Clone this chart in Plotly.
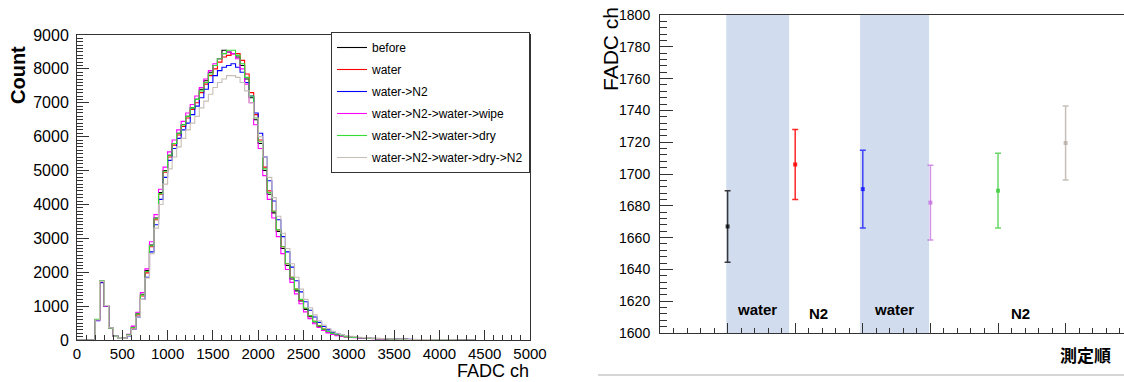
import numpy as np
import plotly.graph_objects as go

# ---------------- data: left histogram (bin width 50 FADC ch, lower edges from 0) ----------------
BIN_WIDTH = 50
hist_names = ["before", "water", "water->N2", "water->N2->water->wipe",
              "water->N2->water->dry", "water->N2->water->dry->N2"]
hist_colors = ["#000000", "#ff0000", "#0000ff", "#ff00ff", "#33dd33", "#c8bfb6"]

before = [0, 0, 0, 0, 600, 1720, 1000, 350, 120, 50, 60, 150, 380, 780, 1350, 2050, 2800, 3600, 4350, 5000,
          5450, 5800, 6100, 6350, 6600, 6850, 7100, 7400, 7650, 7900, 8100, 8300, 8550, 8500, 8450, 8350,
          8100, 7700, 7150, 6500, 5800, 5000, 4300, 3750, 3200, 2700, 2200, 1800, 1450, 1150, 900, 690,
          530, 410, 310, 240, 190, 150, 120, 100, 85, 75, 65, 58, 50, 45, 40, 35, 30, 27, 24, 21, 18, 16,
          14, 12, 10, 8, 7, 6, 5, 4, 3, 2, 2, 1, 1, 0]
water = [0, 0, 0, 0, 580, 1700, 1010, 340, 110, 45, 55, 140, 350, 740, 1300, 1980, 2750, 3550, 4300, 4950,
         5400, 5750, 6050, 6300, 6550, 6800, 7000, 7300, 7550, 7800, 8000, 8200, 8350, 8400, 8450, 8450,
         8250, 7850, 7300, 6650, 5900, 5100, 4400, 3800, 3250, 2750, 2250, 1850, 1500, 1180, 930, 710,
         550, 420, 320, 250, 195, 155, 125, 100, 88, 76, 66, 58, 52, 46, 40, 36, 31, 27, 24, 21, 19, 16,
         14, 12, 10, 9, 7, 6, 5, 4, 3, 3, 2, 1, 1, 0]
water_n2 = [0, 0, 0, 0, 570, 1690, 990, 345, 115, 45, 50, 120, 310, 680, 1200, 1850, 2600, 3400, 4150, 4800,
            5300, 5650, 5950, 6200, 6400, 6650, 6900, 7150, 7400, 7600, 7800, 7950, 8050, 8100, 8150, 8050,
            7900, 7600, 7200, 6700, 6100, 5400, 4700, 4100, 3550, 3050, 2600, 2150, 1750, 1420, 1130, 880,
            680, 520, 400, 300, 230, 180, 145, 115, 95, 82, 70, 62, 55, 48, 42, 37, 33, 29, 25, 22, 19, 17,
            15, 13, 11, 9, 8, 6, 5, 4, 3, 3, 2, 2, 1, 0]
wipe = [0, 0, 0, 0, 600, 1740, 1000, 340, 110, 45, 65, 170, 410, 820, 1400, 2100, 2900, 3700, 4450, 5100,
        5550, 5900, 6200, 6450, 6700, 6950, 7200, 7450, 7700, 7950, 8150, 8300, 8450, 8500, 8450, 8300,
        8000, 7550, 7000, 6350, 5650, 4850, 4150, 3600, 3050, 2550, 2080, 1700, 1360, 1070, 830, 630,
        480, 370, 280, 210, 165, 130, 105, 90, 78, 68, 60, 53, 47, 42, 37, 32, 28, 25, 22, 19, 17, 15,
        13, 11, 9, 8, 6, 5, 4, 3, 3, 2, 1, 1, 0, 0]
dry = [0, 0, 0, 0, 610, 1750, 1010, 345, 115, 50, 60, 150, 370, 770, 1330, 2020, 2780, 3580, 4320, 4980,
       5450, 5800, 6100, 6350, 6600, 6850, 7100, 7350, 7600, 7850, 8100, 8300, 8450, 8550, 8550, 8400,
       8150, 7750, 7200, 6550, 5850, 5050, 4350, 3800, 3250, 2750, 2250, 1850, 1500, 1200, 940, 720,
       550, 420, 320, 250, 195, 155, 125, 100, 86, 75, 66, 58, 51, 45, 40, 35, 31, 27, 24, 21, 18, 16,
       14, 12, 10, 8, 7, 6, 5, 4, 3, 2, 2, 1, 1, 0]
dry_n2 = [0, 0, 0, 0, 590, 1730, 1020, 360, 120, 50, 55, 130, 320, 680, 1200, 1830, 2550, 3300, 4000, 4600,
          5050, 5400, 5700, 5950, 6200, 6400, 6600, 6850, 7050, 7250, 7450, 7600, 7700, 7800, 7800, 7750,
          7600, 7350, 7000, 6550, 6000, 5400, 4800, 4200, 3650, 3150, 2700, 2250, 1850, 1500, 1200, 950,
          740, 570, 440, 340, 260, 200, 160, 130, 110, 95, 82, 72, 63, 55, 48, 42, 37, 32, 28, 25, 22, 19,
          17, 15, 13, 11, 9, 7, 6, 5, 4, 3, 2, 2, 1, 1]
hist_values = [before, water, water_n2, wipe, dry, dry_n2]

# ---------------- data: right plot (mean FADC ch with errors, in measurement order) ----------------
order = [1, 2, 3, 4, 5, 6]
means = [1667, 1706, 1690.5, 1682, 1689.5, 1719.5]
errors = [22.5, 22, 24.5, 23.5, 23.5, 23.3]
point_colors = ["rgba(0,0,0,0.75)", "rgba(255,0,0,0.85)", "rgba(0,0,255,0.7)",
                "rgba(190,100,220,0.7)", "rgba(40,200,40,0.7)", "rgba(180,170,160,0.75)"]
bands = [(0.98, 1.91), (2.96, 3.98)]
band_labels = [("water", 1.43, 1615), ("N2", 2.34, 1612.5), ("water", 3.46, 1615), ("N2", 5.34, 1612.5)]

FONT = "Liberation Sans, Arial, Helvetica, sans-serif"

fig = go.Figure()

for name, vals, col in zip(hist_names, hist_values, hist_colors):
    n = len(vals)
    edges = np.arange(n + 1) * BIN_WIDTH
    yv = list(vals) + [vals[-1]]
    fig.add_trace(go.Scatter(
        x=edges, y=yv, mode="lines", name=name, line=dict(color=col, width=1.1, shape="hv"),
        xaxis="x", yaxis="y", legendgroup=name, showlegend=True))

for xo, m, e, c in zip(order, means, errors, point_colors):
    fig.add_trace(go.Scatter(
        x=[xo], y=[m], mode="markers", showlegend=False,
        marker=dict(color=c, size=4, symbol="square"),
        error_y=dict(type="data", array=[e], color=c, thickness=1.5, width=3),
        xaxis="x2", yaxis="y2"))

shapes = []
for x0, x1 in bands:
    shapes.append(dict(type="rect", xref="x2", yref="y2 domain", x0=x0, x1=x1, y0=0, y1=1,
                       fillcolor="#d1dcee", line=dict(width=0), layer="below"))
shapes.append(dict(type="line", xref="paper", yref="paper", x0=598 / 1124, x1=1.0,
                   y0=(382 - 375) / 382, y1=(382 - 375) / 382, line=dict(color="#c8c8c8", width=1.5)))

annotations = [
    dict(text="<b>Count</b>", xref="paper", yref="paper", x=18 / 1124, y=(382 - 75) / 382,
         xanchor="center", yanchor="middle",
         textangle=-90, showarrow=False, font=dict(family=FONT, size=20, color="#000")),
    dict(text="FADC ch", xref="paper", yref="paper", x=531 / 1124, y=(382 - 371) / 382,
         xanchor="right", yanchor="middle", showarrow=False, font=dict(family=FONT, size=18, color="#000")),
    dict(text="FADC ch", xref="paper", yref="paper", x=610 / 1124, y=(382 - 49) / 382,
         xanchor="center", yanchor="middle",
         textangle=-90, showarrow=False, font=dict(family=FONT, size=21, color="#000")),
    dict(text="<b>測定順</b>", xref="paper", yref="paper", x=1113 / 1124, y=(382 - 354) / 382,
         xanchor="right", yanchor="middle", showarrow=False,
         font=dict(family="Noto Sans CJK JP", size=17, color="#000")),
]
for txt, xv, yv in band_labels:
    annotations.append(dict(text="<b>%s</b>" % txt, xref="x2", yref="y2", x=xv, y=yv, showarrow=False,
                            font=dict(family=FONT, size=15, color="#000")))

axis_common = dict(showline=True, linecolor="#333", linewidth=1, ticks="inside", tickcolor="#333",
                   showgrid=False, zeroline=False, automargin=False)

fig.update_layout(
    width=1124, height=382, margin=dict(l=0, r=0, t=0, b=0, autoexpand=False),
    paper_bgcolor="white", plot_bgcolor="white",
    xaxis=dict(domain=[77 / 1124, 530 / 1124], range=[0, 5000], dtick=500, tick0=0,
               ticklen=10, mirror=True, anchor="y", ticklabelstandoff=0,
               minor=dict(dtick=100, ticklen=5, ticks="inside", tickcolor="#333"),
               tickfont=dict(family=FONT, size=15, color="#000"), **axis_common),
    yaxis=dict(domain=[(382 - 340) / 382, (382 - 35) / 382], range=[0, 9000], dtick=1000, tick0=0,
               ticklen=12, mirror=True, anchor="x", ticklabelstandoff=4,
               minor=dict(dtick=100, ticklen=6, ticks="inside", tickcolor="#333"),
               tickfont=dict(family=FONT, size=16, color="#000"), **axis_common),
    xaxis2=dict(domain=[660 / 1124, 1.0], range=[0, 464 / 67.6], dtick=1, tick0=0,
                ticklen=10, mirror=True, anchor="y2", showticklabels=False,
                minor=dict(dtick=0.2, ticklen=5, ticks="inside", tickcolor="#333"), **axis_common),
    yaxis2=dict(domain=[(382 - 333) / 382, (382 - 15) / 382], range=[1600, 1800], dtick=20, tick0=1600,
                ticklen=13, anchor="x2", ticklabelstandoff=6,
                minor=dict(dtick=4, ticklen=7, ticks="inside", tickcolor="#333"),
                tickfont=dict(family=FONT, size=14, color="#000"), **axis_common),
    legend=dict(x=530 / 1124, y=(382 - 32) / 382, xanchor="right", yanchor="top",
                bgcolor="white", bordercolor="#333", borderwidth=1,
                font=dict(family=FONT, size=12, color="#000"), tracegroupgap=3,
                itemwidth=30),
    shapes=shapes, annotations=annotations,
)

fig.write_html("out.html")
